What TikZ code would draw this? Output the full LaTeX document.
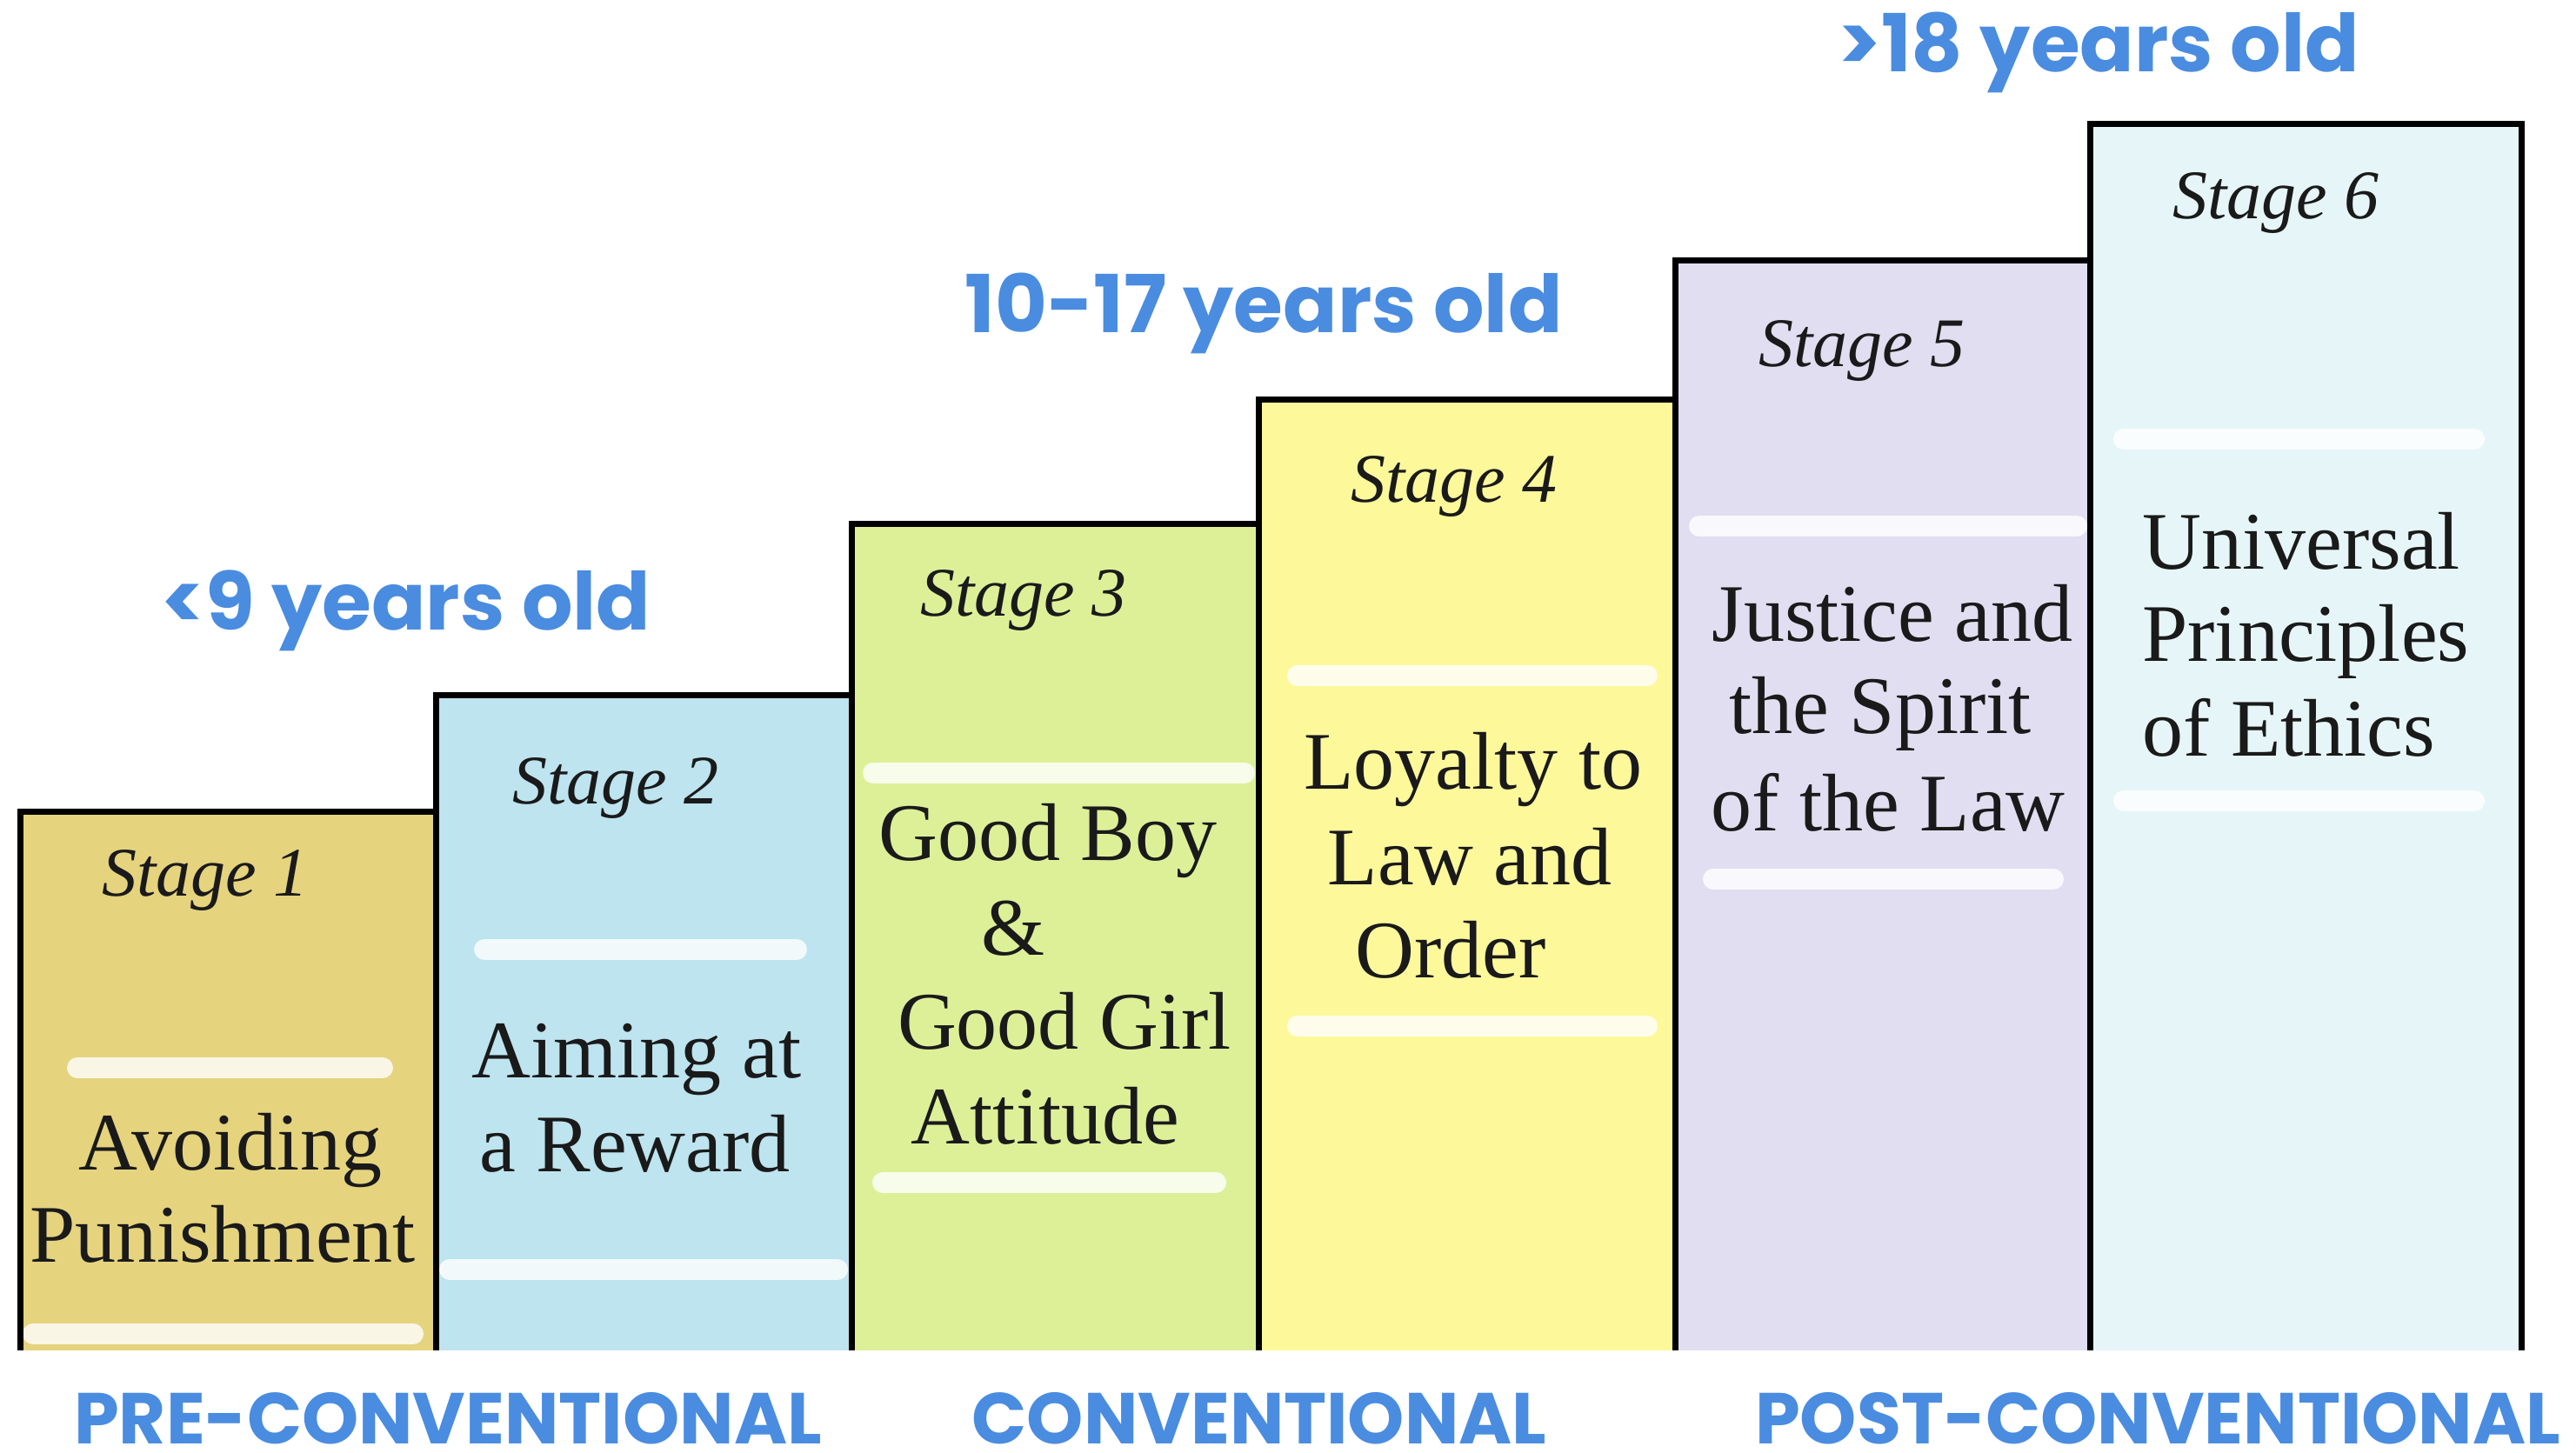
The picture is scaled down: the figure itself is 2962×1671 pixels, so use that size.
\documentclass[tikz,border=0pt]{standalone}
\usepackage{fontspec}
\setmainfont{Liberation Serif}
\newfontfamily\popf{Poppins}
\definecolor{agblue}{HTML}{4A8CE0}
\definecolor{cA}{HTML}{E5D37E}
\definecolor{cB}{HTML}{BDE4EF}
\definecolor{cC}{HTML}{DDF098}
\definecolor{cD}{HTML}{FDF99B}
\definecolor{cE}{HTML}{E1DEF1}
\definecolor{cF}{HTML}{E6F6F8}
\definecolor{ink}{HTML}{1A1A1A}
\begin{document}
\begin{tikzpicture}[x=0.5pt,y=-0.5pt,
  maintext/.style={font=\fontsize{47}{54}\selectfont, text=ink, anchor=base, inner sep=0pt},
  stagelab/.style={font=\itshape\fontsize{40}{46}\selectfont, text=ink, anchor=base, inner sep=0pt},
  agelab/.style={font=\popf\bfseries\fontsize{46}{50}\selectfont, text=agblue, anchor=base, inner sep=0pt},
  levlab/.style={font=\popf\bfseries\fontsize{41.5}{45}\selectfont, text=agblue, anchor=base, inner sep=0pt, text depth=0pt},
  stripe/.style={draw=white, line width=12pt, line cap=round, opacity=0.8},
  border/.style={draw=black, line width=3.5pt, line join=miter}]
\useasboundingbox (0,0) rectangle (2962,1671);
% column fills
\fill[cA] (23,933) rectangle (501,1553);
\fill[cB] (501,799) rectangle (979,1553);
\fill[cC] (979,602) rectangle (1447,1553);
\fill[cD] (1447,459) rectangle (1926,1553);
\fill[cE] (1926,299) rectangle (2403,1553);
\fill[cF] (2403,142) rectangle (2899,1553);
% stripes
\draw[stripe] (89,1228) -- (440,1228);
\draw[stripe] (38,1534) -- (475,1534);
\draw[stripe] (557,1092) -- (916,1092);
\draw[stripe] (517,1460) -- (963,1460);
\draw[stripe] (1004,889) -- (1431,889);
\draw[stripe] (1015,1360) -- (1398,1360);
\draw[stripe] (1492,777) -- (1894,777);
\draw[stripe] (1492,1180) -- (1894,1180);
\draw[stripe] (1954,605) -- (2388,605);
\draw[stripe] (1970,1011) -- (2361,1011);
\draw[stripe] (2442,505) -- (2845,505);
\draw[stripe] (2442,921) -- (2845,921);
% borders
\draw[border] (23,1553) -- (23,933) -- (501,933) -- (501,799) -- (979,799) -- (979,602)
  -- (1447,602) -- (1447,459) -- (1926,459) -- (1926,299) -- (2403,299) -- (2403,142)
  -- (2899,142) -- (2899,1553);
\draw[border] (501,1553) -- (501,933);
\draw[border] (979,1553) -- (979,799);
\draw[border] (1447,1553) -- (1447,602);
\draw[border] (1926,1553) -- (1926,459);
\draw[border] (2403,1553) -- (2403,299);
% stage labels
\node[stagelab] (st1) at (236,1030) {Stage 1};
\node[stagelab] (st2) at (708,924) {Stage 2};
\node[stagelab] (st3) at (1177,708) {Stage 3};
\node[stagelab] (st4) at (1672,577) {Stage 4};
\node[stagelab] (st5) at (2141,421) {Stage 5};
\node[stagelab] (st6) at (2617,251) {Stage 6};
% main texts
\node[maintext] (t1a) at (265,1345) {Avoiding};
\node[maintext] (t1b) at (256,1451) {Punishment};
\node[maintext] (t2a) at (732,1239) {Aiming at};
\node[maintext] (t2b) at (730,1347) {a Reward};
\node[maintext] (t3a) at (1205,989) {Good Boy};
\node[maintext] (t3b) at (1165,1098) {\&};
\node[maintext] (t3c) at (1224,1206) {Good Girl};
\node[maintext] (t3d) at (1202,1315) {Attitude};
\node[maintext] (t4a) at (1694,907) {Loyalty to};
\node[maintext] (t4b) at (1690,1017) {Law and};
\node[maintext] (t4c) at (1668,1124) {Order};
\node[maintext] (t5a) at (2176,737) {Justice and};
\node[maintext] (t5b) at (2162,843) {the Spirit};
\node[maintext] (t5c) at (2171,955) {of the Law};
\node[maintext, anchor=base west] (t6a) at (2463,654) {Universal};
\node[maintext, anchor=base west] (t6b) at (2463,760) {Principles};
\node[maintext, anchor=base west] (t6c) at (2463,869) {of Ethics};
% age labels
\node[agelab] (age1) at (467,724) {<9 years old};
\node[agelab] (age2) at (1453,382) {10-17 years old};
\node[agelab] (age3) at (2413,82) {>18 years old};
% level labels
\node[levlab] (lev1) at (515,1660) {PRE-CONVENTIONAL};
\node[levlab] (lev2) at (1448,1660) {CONVENTIONAL};
\node[levlab] (lev3) at (2481,1660) {POST-CONVENTIONAL};
\end{tikzpicture}
\end{document}
